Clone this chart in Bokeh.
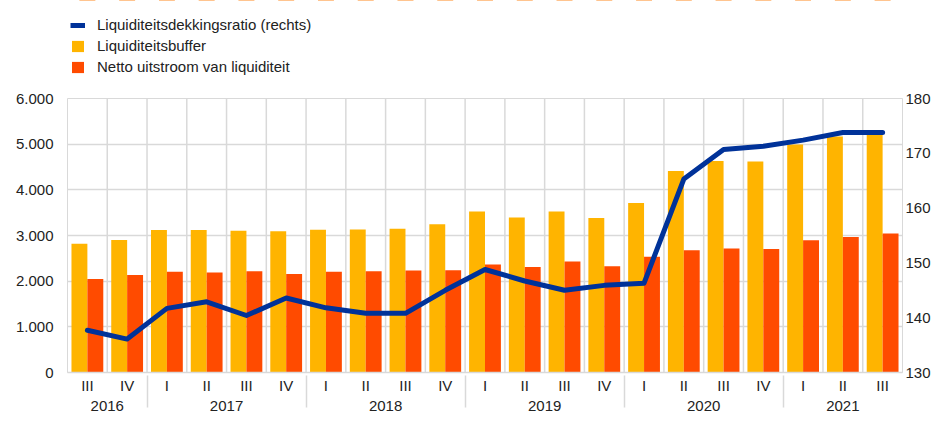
from bokeh.plotting import figure
from bokeh.layouts import column
from bokeh.models import (ColumnDataSource, FactorRange, Range1d, LinearAxis,
                          FixedTicker, Legend, LegendItem, Span)
from bokeh.transform import dodge
from bokeh.embed import file_html
from bokeh.resources import INLINE

# ---- data ----
years = ["2016", "2016",
         "2017", "2017", "2017", "2017",
         "2018", "2018", "2018", "2018",
         "2019", "2019", "2019", "2019",
         "2020", "2020", "2020", "2020",
         "2021", "2021", "2021"]
quarters = ["III", "IV",
            "I", "II", "III", "IV",
            "I", "II", "III", "IV",
            "I", "II", "III", "IV",
            "I", "II", "III", "IV",
            "I", "II", "III"]
buffer_vals = [2817, 2901, 3120, 3120, 3106, 3092, 3127, 3134, 3148, 3247,
               3528, 3395, 3528, 3381, 3711, 4415, 4634, 4620, 4993, 5169, 5235]
outflow_vals = [2049, 2134, 2204, 2190, 2218, 2155, 2204, 2218, 2233, 2240,
                2366, 2310, 2430, 2324, 2535, 2676, 2718, 2704, 2894, 2965, 3042]
lcr_vals = [137.7, 136.1, 141.7, 142.9, 140.4, 143.6, 141.8, 140.8, 140.8, 145.0,
            148.8, 146.7, 145.0, 145.9, 146.3, 165.3, 170.7, 171.3, 172.4, 173.8, 173.8]
left_ticks = [0, 1000, 2000, 3000, 4000, 5000, 6000]
left_tick_labels = ["0", "1.000", "2.000", "3.000", "4.000", "5.000", "6.000"]
right_ticks = [130, 140, 150, 160, 170, 180]
series_names = ["Liquiditeitsdekkingsratio (rechts)", "Liquiditeitsbuffer",
                "Netto uitstroom van liquiditeit"]

# ---- styling ----
FONT = "Liberation Sans"
GRID = "#d9d9d9"
TXT = "#222222"
BLUE = "#003299"
YELLOW = "#FFB400"
ORANGE = "#FF4B00"
LINE_W = 5

W = 933
LEG_FIG_H = 90
MAIN_H = 328

# ================= main chart =================
factors = list(zip(years, quarters))
src = ColumnDataSource(dict(cat=factors, buf=buffer_vals, out=outflow_vals, lcr=lcr_vals))

xr = FactorRange(*factors, group_padding=0, factor_padding=0, range_padding=0)
p = figure(width=W, height=MAIN_H, x_range=xr, y_range=Range1d(0, 6000),
           output_backend="svg", toolbar_location=None,
           min_border_left=67, min_border_right=29, min_border_top=8,
           min_border_bottom=46)
p.extra_y_ranges = {"right": Range1d(130, 180)}

p.outline_line_color = GRID
p.background_fill_color = "white"
p.border_fill_color = "white"

# vertical separators between quarters (category boundaries)
p.xgrid.visible = False
for k in range(1, len(factors)):
    p.add_layout(Span(location=k, dimension="height", line_color=GRID,
                      line_width=1.5, level="underlay"))

p.vbar(x=dodge("cat", -0.2, range=xr), top="buf", width=0.4, source=src,
       fill_color=YELLOW, line_color=None)
p.vbar(x=dodge("cat", 0.2, range=xr), top="out", width=0.4, source=src,
       fill_color=ORANGE, line_color=None)
p.line(x="cat", y="lcr", source=src, y_range_name="right",
       line_color=BLUE, line_width=LINE_W, line_cap="round", line_join="round")

# horizontal grid
p.ygrid.ticker = FixedTicker(ticks=left_ticks)
p.ygrid.grid_line_color = GRID
p.ygrid.grid_line_width = 1.5

# left axis
ya = p.yaxis[0]
ya.ticker = FixedTicker(ticks=left_ticks)
ya.major_label_overrides = {t: l for t, l in zip(left_ticks, left_tick_labels)}
ya.axis_line_color = None
ya.major_tick_line_color = None
ya.minor_tick_line_color = None
ya.major_tick_out = 0
ya.major_tick_in = 0
ya.major_label_standoff = 14
ya.major_label_text_font = FONT
ya.major_label_text_font_size = "15px"
ya.major_label_text_color = TXT

# right axis
ra = LinearAxis(y_range_name="right", ticker=FixedTicker(ticks=right_ticks))
ra.axis_line_color = None
ra.major_tick_line_color = None
ra.minor_tick_line_color = None
ra.major_tick_out = 0
ra.major_tick_in = 0
ra.major_label_standoff = 3
ra.major_label_text_font = FONT
ra.major_label_text_font_size = "15px"
ra.major_label_text_color = TXT
p.add_layout(ra, "right")

# bottom axis
xa = p.xaxis[0]
xa.axis_line_color = GRID
xa.axis_line_width = 1.5
xa.major_tick_line_color = None
xa.major_tick_out = 0
xa.major_tick_in = 0
xa.major_label_standoff = 4
xa.major_label_text_font = FONT
xa.major_label_text_font_size = "15px"
xa.major_label_text_color = TXT
xa.group_text_font = FONT
xa.group_text_font_size = "15px"
xa.group_text_color = TXT
xa.group_text_font_style = "normal"
xa.separator_line_color = GRID
xa.separator_line_width = 1.5

# ================= legend strip above the chart =================
# same series, drawn into a y-range that shows none of them (zero-height
# bars far outside the range), so only the legend's own swatches are visible
xr_leg = FactorRange(*factors, group_padding=0, factor_padding=0, range_padding=0)
pl = figure(width=W, height=LEG_FIG_H, x_range=xr_leg, y_range=Range1d(-2, -1),
            output_backend="svg", toolbar_location=None,
            min_border=0, x_axis_location=None, y_axis_location=None)
pl.grid.visible = False
pl.outline_line_color = None
pl.background_fill_color = "white"
pl.border_fill_color = "white"

l_line = pl.line(x="cat", y="lcr", source=src, line_color=BLUE, line_width=LINE_W)
l_buf = pl.vbar(x="cat", bottom="buf", top="buf", width=0.4, source=src,
                fill_color=YELLOW, line_color=None)
l_out = pl.vbar(x="cat", bottom="out", top="out", width=0.4, source=src,
                fill_color=ORANGE, line_color=None)

LEG_H = 3 * 21 + 2 * 3
legend = Legend(items=[LegendItem(label=series_names[0], renderers=[l_line]),
                       LegendItem(label=series_names[1], renderers=[l_buf]),
                       LegendItem(label=series_names[2], renderers=[l_out])],
                location=(3, LEG_FIG_H - 8 - LEG_H), orientation="vertical",
                border_line_color=None, background_fill_alpha=0,
                label_text_font=FONT, label_text_font_size="15px",
                label_text_color=TXT, glyph_width=15, glyph_height=14,
                label_height=21, label_standoff=12, spacing=0, padding=3,
                margin=0)
pl.add_layout(legend, "center")

layout = column(pl, p, spacing=0)
open("out.html", "w").write(file_html(layout, INLINE))
